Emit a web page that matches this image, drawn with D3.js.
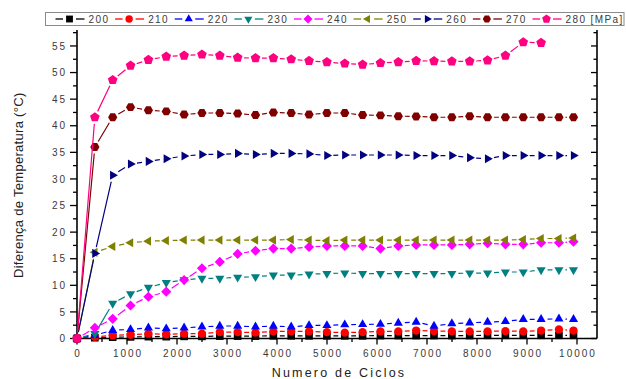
<!DOCTYPE html>
<html>
<head>
<meta charset="utf-8">
<script src="https://cdn.jsdelivr.net/npm/d3@7"></script>
<style>
  body { margin: 0; background: #fff; }
  svg { display: block; font-family: "Liberation Sans", Arial, sans-serif; }
</style>
</head>
<body>
<svg id="chart" width="626" height="379"></svg>
<script>
// ---------------------------
// Data
// ---------------------------
const cycles = [0, 357, 714, 1071, 1428, 1785, 2142, 2499, 2856, 3213, 3570, 3927, 4284, 4641,
  4998, 5355, 5712, 6069, 6426, 6783, 7140, 7497, 7854, 8211, 8568, 8925, 9282, 9639, 9930];

const seriesNames = ["200", "210", "220", "230", "240", "250", "260", "270", "280"];

const s200 = [0, 0.15, 0.25, 0.3, 0.35, 0.35, 0.4, 0.4, 0.45, 0.45, 0.45, 0.5, 0.5, 0.5, 0.5,
  0.5, 0.5, 0.55, 0.55, 0.55, 0.55, 0.55, 0.55, 0.6, 0.6, 0.6, 0.6, 0.6, 0.6];
const s210 = [0, 0.3, 0.6, 0.7, 0.9, 0.8, 0.9, 0.9, 1.2, 1.2, 1.1, 1.35, 1.35, 1.35, 1.2,
  1.1, 1.2, 1.35, 1.35, 1.5, 1.4, 1.35, 1.35, 1.35, 1.4, 1.35, 1.5, 1.7, 1.5];
const s220 = [0, 0.6, 1.55, 1.7, 2.0, 1.85, 2.0, 2.2, 2.35, 2.35, 2.2, 2.35, 2.2, 2.45, 2.45,
  2.6, 2.65, 2.7, 2.9, 3.1, 2.35, 2.8, 2.95, 3.1, 3.2, 3.6, 3.6, 3.7, 3.6];
const s230 = [0, 0.9, 6.6, 8.4, 9.6, 10.5, 11.0, 11.3, 11.3, 11.5, 11.6, 11.9, 11.9, 12.1, 12.2,
  12.3, 12.2, 12.2, 12.2, 12.2, 12.2, 12.2, 12.3, 12.3, 12.5, 12.5, 12.9, 12.9, 12.9];
const s240 = [0, 2.0, 3.7, 6.2, 7.85, 8.8, 11.0, 13.2, 14.4, 15.9, 16.5, 16.9, 16.9, 17.2, 17.4,
  17.4, 17.4, 16.9, 17.4, 17.6, 17.6, 17.6, 17.7, 17.9, 17.7, 17.7, 18.0, 18.0, 18.2];
const s250 = [0, 16.2, 17.3, 18.0, 18.3, 18.4, 18.5, 18.5, 18.5, 18.5, 18.5, 18.5, 18.6, 18.5, 18.4,
  18.5, 18.5, 18.5, 18.5, 18.5, 18.5, 18.5, 18.5, 18.5, 18.5, 18.6, 18.8, 18.8, 18.9];
const s260 = [0, 16.0, 30.7, 32.8, 33.3, 33.8, 34.3, 34.6, 34.6, 34.8, 34.6, 34.8, 34.8, 34.7, 34.4,
  34.5, 34.5, 34.5, 34.5, 34.4, 34.4, 34.4, 34.0, 33.8, 34.4, 34.4, 34.4, 34.4, 34.4];
const s270 = [0, 36.0, 41.6, 43.5, 42.9, 42.7, 42.1, 42.4, 42.4, 42.3, 42.0, 42.5, 42.4, 42.1, 42.4,
  42.4, 42.0, 41.95, 41.8, 41.75, 41.6, 41.6, 41.8, 41.6, 41.6, 41.6, 41.6, 41.6, 41.6];
const s280 = [0, 41.6, 48.6, 51.3, 52.4, 53.0, 53.2, 53.4, 53.2, 52.8, 52.7, 52.7, 52.5, 52.2, 51.95,
  51.7, 51.5, 51.8, 51.95, 52.2, 52.15, 52.1, 52.1, 52.3, 53.2, 55.7, 55.6];

const seriesValues = [s200, s210, s220, s230, s240, s250, s260, s270, s280];
const seriesColors = ["#000000", "#ff0000", "#0000ff", "#008080", "#ff00ff",
  "#808000", "#000080", "#800000", "#ff0080"];
const seriesSymbols = ["square", "circle", "triUp", "triDown", "diamond",
  "triLeft", "triRight", "hexagon", "pentagon"];

const xTickValues = [0, 1000, 2000, 3000, 4000, 5000, 6000, 7000, 8000, 9000, 10000];
const xMinorValues = [500, 1500, 2500, 3500, 4500, 5500, 6500, 7500, 8500, 9500];
const yTickValues = [0, 5, 10, 15, 20, 25, 30, 35, 40, 45, 50, 55];
const yMinorValues = [2.5, 7.5, 12.5, 17.5, 22.5, 27.5, 32.5, 37.5, 42.5, 47.5, 52.5, 57.5];

const xTitle = "Numero de Ciclos";
const yTitle = "Diferença de Temperatura (°C)";
const unitLabel = " [MPa]";

// ---------------------------
// Layout
// ---------------------------
const plot = { left: 77, right: 597, top: 30, bottom: 338.5 };

const svg = d3.select("#chart");

const x = d3.scaleLinear().domain([0, 10400]).range([plot.left, plot.right]);
const y = d3.scaleLinear().domain([0, 58]).range([plot.bottom, plot.top]);

// symbol path centred on 0,0
function symbolPath(type, s) {
  const poly = (n, r, rot) => {
    const pts = d3.range(n).map((k) => {
      const a = rot + (k * 2 * Math.PI) / n;
      return [r * Math.cos(a), r * Math.sin(a)];
    });
    return "M" + pts.map((p) => p[0].toFixed(2) + "," + p[1].toFixed(2)).join("L") + "Z";
  };
  switch (type) {
    case "square": return poly(4, s * 1.15, Math.PI / 4);
    case "circle": return d3.symbol(d3.symbolCircle, Math.PI * (s * 0.88) * (s * 0.88))();
    case "triUp": return poly(3, s * 1.12, -Math.PI / 2);
    case "triDown": return poly(3, s * 1.12, Math.PI / 2);
    case "triLeft": return poly(3, s * 1.12, Math.PI);
    case "triRight": return poly(3, s * 1.12, 0);
    case "diamond": return poly(4, s * 1.08, 0);
    case "hexagon": return poly(6, s * 0.98, 0);
    case "pentagon": return poly(5, s * 1.08, -Math.PI / 2);
  }
}

// ---------------------------
// Axes
// ---------------------------
const axisColor = "#000";
const labelColor = "#3a3a3a";

// bottom axis
const xAxis = svg.append("g").attr("transform", `translate(0,${plot.bottom})`);
xAxis.append("line")
  .attr("x1", plot.left).attr("x2", plot.right)
  .attr("stroke", axisColor).attr("stroke-width", 1.6);
xAxis.selectAll(".xmaj").data(xTickValues).join("line")
  .attr("x1", (d) => x(d)).attr("x2", (d) => x(d))
  .attr("y1", 0).attr("y2", 6)
  .attr("stroke", axisColor).attr("stroke-width", 1.3);
xAxis.selectAll(".xmin").data(xMinorValues).join("line")
  .attr("x1", (d) => x(d)).attr("x2", (d) => x(d))
  .attr("y1", 0).attr("y2", 3.5)
  .attr("stroke", axisColor).attr("stroke-width", 1.3);
xAxis.selectAll("text").data(xTickValues).join("text")
  .attr("x", (d) => x(d) + 1)
  .attr("y", 18.5)
  .attr("text-anchor", "middle")
  .attr("font-size", 10)
  .attr("letter-spacing", 2)
  .attr("fill", labelColor)
  .text((d) => d);

// left axis
const yAxis = svg.append("g").attr("transform", `translate(${plot.left},0)`);
yAxis.append("line")
  .attr("y1", plot.top).attr("y2", plot.bottom)
  .attr("stroke", axisColor).attr("stroke-width", 1.6);
yAxis.selectAll(".ymaj").data(yTickValues).join("line")
  .attr("y1", (d) => y(d)).attr("y2", (d) => y(d))
  .attr("x1", 0).attr("x2", -7)
  .attr("stroke", axisColor).attr("stroke-width", 1.3);
yAxis.selectAll(".ymin").data(yMinorValues).join("line")
  .attr("y1", (d) => y(d)).attr("y2", (d) => y(d))
  .attr("x1", 0).attr("x2", -4)
  .attr("stroke", axisColor).attr("stroke-width", 1.3);
yAxis.selectAll("text").data(yTickValues).join("text")
  .attr("x", -10)
  .attr("y", (d) => y(d))
  .attr("dy", "0.36em")
  .attr("text-anchor", "end")
  .attr("font-size", 10)
  .attr("letter-spacing", 2)
  .attr("fill", labelColor)
  .text((d) => d);

// right axis (mirror, ticks inward, no labels)
const rAxis = svg.append("g").attr("transform", `translate(${plot.right},0)`);
rAxis.append("line")
  .attr("y1", plot.top).attr("y2", plot.bottom)
  .attr("stroke", axisColor).attr("stroke-width", 1.6);
rAxis.selectAll(".rmaj").data(yTickValues).join("line")
  .attr("y1", (d) => y(d)).attr("y2", (d) => y(d))
  .attr("x1", 0).attr("x2", -6)
  .attr("stroke", axisColor).attr("stroke-width", 1.3);
rAxis.selectAll(".rmin").data(yMinorValues).join("line")
  .attr("y1", (d) => y(d)).attr("y2", (d) => y(d))
  .attr("x1", 0).attr("x2", -3.5)
  .attr("stroke", axisColor).attr("stroke-width", 1.3);

// axis titles
svg.append("text")
  .attr("x", (plot.left + plot.right) / 2 + 2)
  .attr("y", 377)
  .attr("text-anchor", "middle")
  .attr("font-size", 12.5)
  .attr("letter-spacing", 2.2)
  .attr("fill", "#222")
  .text(xTitle);

svg.append("text")
  .attr("transform", `translate(22.5,${(plot.top + plot.bottom) / 2 + 1}) rotate(-90)`)
  .attr("text-anchor", "middle")
  .attr("font-size", 13)
  .attr("letter-spacing", 0.3)
  .attr("fill", "#222")
  .text(yTitle);

// ---------------------------
// Series (lines leave a small gap round each symbol)
// ---------------------------
const GAP = 6.5;

function gappedPath(pts) {
  let d = "";
  for (let i = 0; i < pts.length - 1; i++) {
    const [x0, y0] = pts[i];
    const [x1, y1] = pts[i + 1];
    const len = Math.hypot(x1 - x0, y1 - y0);
    if (len <= 2 * GAP + 1) continue;
    const ux = (x1 - x0) / len, uy = (y1 - y0) / len;
    d += `M${(x0 + ux * GAP).toFixed(2)},${(y0 + uy * GAP).toFixed(2)}` +
         `L${(x1 - ux * GAP).toFixed(2)},${(y1 - uy * GAP).toFixed(2)}`;
  }
  return d;
}

const seriesLayer = svg.append("g");

seriesValues.forEach((vals, i) => {
  const pts = vals.map((v, j) => [x(cycles[j]), y(v)]);
  const g = seriesLayer.append("g");
  g.append("path")
    .attr("d", gappedPath(pts))
    .attr("fill", "none")
    .attr("stroke", seriesColors[i])
    .attr("stroke-width", 1.2);
  g.selectAll("path.sym").data(pts).join("path")
    .attr("class", "sym")
    .attr("transform", (p) => `translate(${p[0]},${p[1]})`)
    .attr("d", symbolPath(seriesSymbols[i], 4.7))
    .attr("fill", seriesColors[i]);
});

// ---------------------------
// Legend
// ---------------------------
const legend = svg.append("g");
legend.append("rect")
  .attr("x", 45.5).attr("y", 12.5)
  .attr("width", 578.5).attr("height", 13)
  .attr("fill", "#fff")
  .attr("stroke", "#8a8a8a")
  .attr("stroke-width", 1);

const legendX = d3.scalePoint().domain(seriesNames).range([69.5, 546.5]);

seriesNames.forEach((name, i) => {
  const cx = legendX(name);
  const cy = 19;
  const item = legend.append("g");
  item.append("line")
    .attr("x1", cx - 14).attr("x2", cx - 6.5)
    .attr("y1", cy).attr("y2", cy)
    .attr("stroke", seriesColors[i]).attr("stroke-width", 1.3);
  item.append("line")
    .attr("x1", cx + 6.5).attr("x2", cx + 15)
    .attr("y1", cy).attr("y2", cy)
    .attr("stroke", seriesColors[i]).attr("stroke-width", 1.3);
  item.append("path")
    .attr("transform", `translate(${cx},${cy})`)
    .attr("d", symbolPath(seriesSymbols[i], 4.2))
    .attr("fill", seriesColors[i]);
  item.append("text")
    .attr("x", cx + 19)
    .attr("y", cy)
    .attr("dy", "0.36em")
    .attr("font-size", 10)
    .attr("letter-spacing", 1.4)
    .attr("fill", "#3a3a3a")
    .text(i === seriesNames.length - 1 ? name + unitLabel : name);
});
</script>
</body>
</html>
